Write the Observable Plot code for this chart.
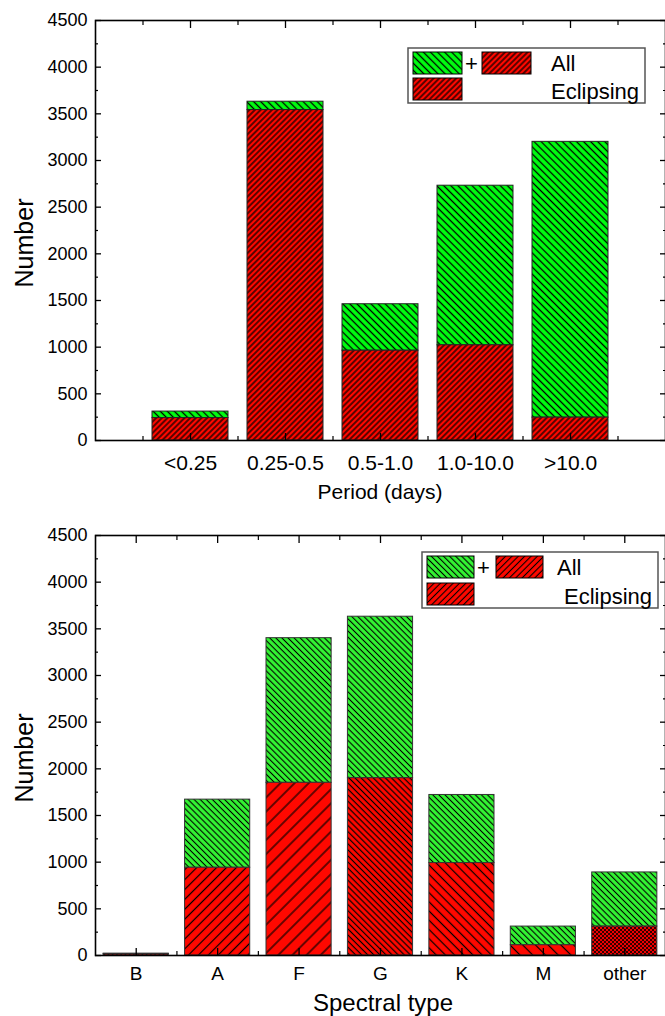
<!DOCTYPE html>
<html><head><meta charset="utf-8">
<script src="https://cdn.jsdelivr.net/npm/d3@7"></script>
<script src="https://cdn.jsdelivr.net/npm/@observablehq/plot@0.6"></script>
<style>
body{margin:0;background:#fff;font-family:"Liberation Sans",Arial,sans-serif;}
#wrap{width:665px;position:relative;}
#wrap svg{display:block;}
#defs{position:absolute;width:0;height:0;}
</style></head><body>
<svg id="defs"><defs></defs></svg>
<div id="wrap"></div>
<script>
// ---- data ----
const periodCategories = ["<0.25", "0.25-0.5", "0.5-1.0", "1.0-10.0", ">10.0"];
const periodAll = [310, 3630, 1460, 2730, 3200];
const periodEclipsing = [240, 3540, 962, 1020, 245];

const spectralCategories = ["B", "A", "F", "G", "K", "M", "other"];
const spectralAll = [20, 1670, 3400, 3630, 1720, 310, 890];
const spectralEclipsing = [15, 940, 1850, 1900, 990, 110, 310];

const yTickValues = [0, 500, 1000, 1500, 2000, 2500, 3000, 3500, 4000, 4500];
const yMinorValues = [250, 750, 1250, 1750, 2250, 2750, 3250, 3750, 4250];
const legendLabels = ["All", "Eclipsing"];
const titles = {periodX: "Period (days)", spectralX: "Spectral type", y: "Number"};

// ---- patterns ----
const defs = d3.select("#defs defs");
function hatch(id, bg, spacing, angle, sw) {
  const p = defs.append("pattern").attr("id", id).attr("patternUnits", "userSpaceOnUse")
    .attr("width", spacing).attr("height", spacing).attr("patternTransform", `rotate(${angle})`);
  p.append("rect").attr("width", spacing).attr("height", spacing).attr("fill", bg);
  p.append("line").attr("x1", spacing / 2).attr("x2", spacing / 2).attr("y1", -1).attr("y2", spacing + 1)
    .attr("stroke", "#000").attr("stroke-width", sw);
}
function checker(id, bg, s) {
  const p = defs.append("pattern").attr("id", id).attr("patternUnits", "userSpaceOnUse")
    .attr("width", 2 * s).attr("height", 2 * s);
  p.append("rect").attr("width", 2 * s).attr("height", 2 * s).attr("fill", bg);
  p.append("rect").attr("width", s).attr("height", s).attr("fill", "#300");
  p.append("rect").attr("x", s).attr("y", s).attr("width", s).attr("height", s).attr("fill", "#300");
}
const RED = "#ff0800", GREEN = "#00ff10", GREEN2 = "#33f533";
hatch("redTop", RED, 4, 45, 1.3);
hatch("greenTop", GREEN, 5, -45, 1.3);
hatch("greenBot", GREEN2, 4.3, -45, 1.1);
hatch("redBotLeg", RED, 4.5, 45, 1.1);
hatch("redA", RED, 7, 45, 1.2);
hatch("redF", RED, 10, 45, 1.2);
hatch("redG", RED, 4.3, -45, 1.2);
hatch("redK", RED, 6.5, -45, 1.2);
hatch("redM", RED, 9, -45, 1.2);
hatch("redB", "#b00", 3, 45, 1);
checker("redOther", "#e00", 2);
const spectralHatch = ["redB", "redA", "redF", "redG", "redK", "redM", "redOther"];

const FONT = '"Liberation Sans", Arial, sans-serif';

function axes(xMajor, xMinor, xFormat, xFont, xPad) {
  return [
    Plot.axisY({anchor: "left", ticks: yTickValues, tickSize: 0, tickPadding: 8, tickFormat: "d", fontSize: 18, label: null}),
    Plot.axisY({anchor: "left", ticks: yTickValues, tickSize: 6, dx: 6, tickFormat: () => "", label: null, strokeWidth: 1.3}),
    Plot.axisY({anchor: "left", ticks: yMinorValues, tickSize: 3, dx: 3, tickFormat: () => "", label: null, strokeWidth: 1.2}),
    Plot.axisY({anchor: "right", ticks: yTickValues, tickSize: 6, dx: -6, tickFormat: () => "", label: null, strokeWidth: 1.3}),
    Plot.axisY({anchor: "right", ticks: yMinorValues, tickSize: 3, dx: -3, tickFormat: () => "", label: null, strokeWidth: 1.2}),
    Plot.axisX({anchor: "bottom", ticks: xMajor, tickSize: 0, tickPadding: xPad, tickFormat: xFormat, fontSize: xFont, label: null}),
    Plot.axisX({anchor: "bottom", ticks: xMajor, tickSize: 7, dy: -7, tickFormat: () => "", label: null, strokeWidth: 1.3}),
    Plot.axisX({anchor: "bottom", ticks: xMinor, tickSize: 4, dy: -4, tickFormat: () => "", label: null, strokeWidth: 1.2}),
    Plot.axisX({anchor: "top", ticks: xMajor, tickSize: 7, dy: 7, tickFormat: () => "", label: null, strokeWidth: 1.3}),
    Plot.axisX({anchor: "top", ticks: xMinor, tickSize: 4, dy: 4, tickFormat: () => "", label: null, strokeWidth: 1.2}),
    Plot.frame({stroke: "#000", strokeWidth: 1.6})
  ];
}

function titlesFor(svg, xText, xPos, yPos, xSize, yCenter, ySize) {
  const g = d3.select(svg).append("g").attr("font-family", FONT).attr("text-anchor", "middle").attr("fill", "#000");
  g.append("text").attr("x", xPos).attr("y", yPos).attr("dy", "0.35em").attr("font-size", xSize).text(xText);
  g.append("text").attr("transform", `translate(24,${yCenter}) rotate(-90)`).attr("dy", "0.35em")
    .attr("font-size", ySize).text(titles.y);
}

function legend(svg, box, greenId, legRedId, fs) {
  const g = d3.select(svg).append("g").attr("font-family", FONT).attr("font-size", fs).attr("text-anchor", "start");
  g.append("rect").attr("x", box.x).attr("y", box.y).attr("width", box.w).attr("height", box.h)
    .attr("fill", "#fff").attr("stroke", "#555").attr("stroke-width", 1.5);
  const sw = box.sw, sh = box.sh;
  g.append("rect").attr("x", box.x + 5).attr("y", box.y + 4).attr("width", sw).attr("height", sh)
    .attr("fill", `url(#${greenId})`).attr("stroke", "#000").attr("stroke-width", 1);
  g.append("text").attr("x", box.x + sw + 8).attr("y", box.y + 4 + sh / 2).attr("dy", "0.35em").text("+");
  g.append("rect").attr("x", box.x + box.plusGap).attr("y", box.y + 4).attr("width", sw).attr("height", sh)
    .attr("fill", `url(#${legRedId})`).attr("stroke", "#000").attr("stroke-width", 1);
  g.append("rect").attr("x", box.x + 5).attr("y", box.y + box.h - sh - 3).attr("width", sw).attr("height", sh)
    .attr("fill", `url(#${legRedId})`).attr("stroke", "#000").attr("stroke-width", 1);
  g.append("text").attr("x", box.x + box.t1).attr("y", box.y + 4 + sh / 2).attr("dy", "0.35em").text(legendLabels[0]);
  g.append("text").attr("x", box.x + box.t2).attr("y", box.y + box.h - sh / 2 - 1).attr("dy", "0.35em").text(legendLabels[1]);
}

// ---- top chart ----
const topData = periodCategories.map((c, i) => ({pos: i + 1, cat: c, all: periodAll[i], ecl: periodEclipsing[i]}));
const periodChart = Plot.plot({
  width: 665, height: 505,
  marginTop: 20, marginBottom: 65, marginLeft: 95, marginRight: 0,
  style: {fontFamily: FONT, color: "#000", background: "#fff", overflow: "visible"},
  x: {type: "linear", domain: [0, 6]},
  y: {domain: [0, 4500]},
  color: {type: "identity"},
  marks: [
    Plot.rectY(topData, {x1: d => d.pos - 0.4, x2: d => d.pos + 0.4, y1: d => d.ecl, y2: d => d.all,
      fill: () => "url(#greenTop)", stroke: "#222", strokeWidth: 1}),
    Plot.rectY(topData, {x1: d => d.pos - 0.4, x2: d => d.pos + 0.4, y1: 0, y2: d => d.ecl,
      fill: () => "url(#redTop)", stroke: "#222", strokeWidth: 1}),
    ...axes([1, 2, 3, 4, 5], [0.5, 1.5, 2.5, 3.5, 4.5, 5.5], i => periodCategories[i - 1], 21, 15)
  ]
});
document.getElementById("wrap").appendChild(periodChart);
titlesFor(periodChart, titles.periodX, 380, 492, 21, 243, 25);
legend(periodChart, {x: 408, y: 48, w: 237, h: 55, sw: 49, sh: 22, plusGap: 74, t1: 143, t2: 143}, "greenTop", "redTop", 22);

// ---- bottom chart ----
const botData = spectralCategories.map((c, i) => ({pos: i, cat: c, all: spectralAll[i], ecl: spectralEclipsing[i], hatch: spectralHatch[i]}));
const spectralChart = Plot.plot({
  width: 665, height: 511,
  marginTop: 30, marginBottom: 61, marginLeft: 95, marginRight: 0,
  style: {fontFamily: FONT, color: "#000", background: "#fff", overflow: "visible"},
  x: {type: "linear", domain: [-0.5, 6.5]},
  y: {domain: [0, 4500]},
  color: {type: "identity"},
  marks: [
    Plot.rectY(botData, {x1: d => d.pos - 0.4, x2: d => d.pos + 0.4, y1: d => d.ecl, y2: d => d.all,
      fill: () => "url(#greenBot)", stroke: "#333", strokeWidth: 1}),
    Plot.rectY(botData, {x1: d => d.pos - 0.4, x2: d => d.pos + 0.4, y1: 0, y2: d => d.ecl,
      fill: d => `url(#${d.hatch})`, stroke: "#333", strokeWidth: 1}),
    ...axes([0, 1, 2, 3, 4, 5, 6], [0.5, 1.5, 2.5, 3.5, 4.5, 5.5], i => spectralCategories[i], 19, 11)
  ]
});
document.getElementById("wrap").appendChild(spectralChart);
titlesFor(spectralChart, titles.spectralX, 383, 498, 24, 253, 25);
legend(spectralChart, {x: 422, y: 47, w: 236, h: 56, sw: 47, sh: 22, plusGap: 74, t1: 135, t2: 142}, "greenBot", "redBotLeg", 22);
</script>
</body></html>
